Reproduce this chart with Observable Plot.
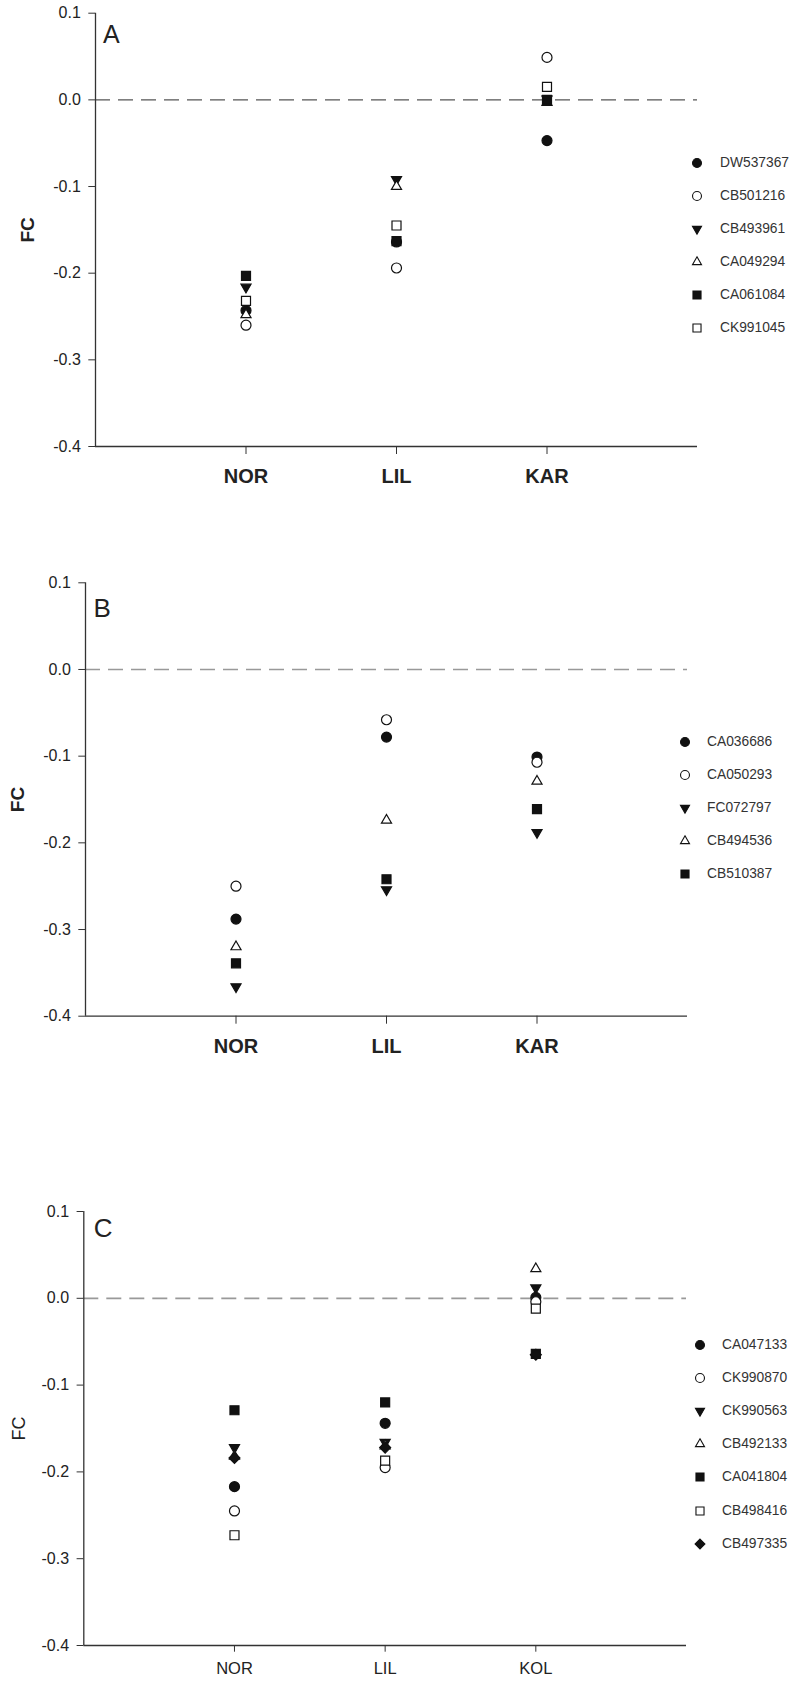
<!DOCTYPE html>
<html>
<head>
<meta charset="utf-8">
<script src="https://cdn.jsdelivr.net/npm/d3@7"></script>
<script src="https://cdn.jsdelivr.net/npm/@observablehq/plot@0.6"></script>
<style>
  body { margin: 0; background: #fff; }
  .panel { position: relative; width: 796px; }
  .panel svg { display: block; }
  .leg { position: absolute; font-family: 'Liberation Sans', Arial, sans-serif; font-size: 13.8px; color: #333; line-height: 16px; white-space: nowrap; }
  .legsym { position: absolute; }
</style>
</head>
<body>
<div id="chart"></div>
<script>
// ---------- DATA ----------
const yTicks = [0.1, 0.0, -0.1, -0.2, -0.3, -0.4];

// Panel A
const catsA = ["NOR", "LIL", "KAR"];
const seriesA = ["DW537367", "CB501216", "CB493961", "CA049294", "CA061084", "CK991045"];
const markersA = ["circle", "circle", "triangle-down", "triangle", "square", "square"];
const filledA = [true, false, true, false, true, false];
const valuesA = [
  [-0.243, -0.164, -0.047],
  [-0.260, -0.194, 0.049],
  [-0.216, -0.092, 0.001],
  [-0.248, -0.100, -0.003],
  [-0.203, -0.163, 0.000],
  [-0.232, -0.145, 0.015]
];

// Panel B
const catsB = ["NOR", "LIL", "KAR"];
const seriesB = ["CA036686", "CA050293", "FC072797", "CB494536", "CB510387"];
const markersB = ["circle", "circle", "triangle-down", "triangle", "square"];
const filledB = [true, false, true, false, true];
const valuesB = [
  [-0.288, -0.078, -0.101],
  [-0.250, -0.058, -0.107],
  [-0.366, -0.254, -0.188],
  [-0.320, -0.174, -0.129],
  [-0.339, -0.242, -0.161]
];

// Panel C
const catsC = ["NOR", "LIL", "KOL"];
const seriesC = ["CA047133", "CK990870", "CK990563", "CB492133", "CA041804", "CB498416", "CB497335"];
const markersC = ["circle", "circle", "triangle-down", "triangle", "square", "square", "diamond"];
const filledC = [true, false, true, false, true, false, true];
const valuesC = [
  [-0.217, -0.144, 0.001],
  [-0.245, -0.195, -0.004],
  [-0.172, -0.166, 0.012],
  [-0.182, -0.170, 0.034],
  [-0.129, -0.120, -0.064],
  [-0.273, -0.187, -0.012],
  [-0.184, -0.172, -0.065]
];

// ---------- STYLE / LAYOUT ----------
const FONT = "'Liberation Sans', Arial, Helvetica, sans-serif";
const INK = "#111";
const KIND = {
  "circle":        { symbol: "circle",   d3sym: d3.symbolCircle,   r: 5.0,  rotate: 0 },
  "square":        { symbol: "square",   d3sym: d3.symbolSquare,   r: 5.08, rotate: 0 },
  "triangle":      { symbol: "triangle", d3sym: d3.symbolTriangle, r: 3.75, rotate: 0 },
  "triangle-down": { symbol: "triangle", d3sym: d3.symbolTriangle, r: 3.75, rotate: 180 },
  "diamond":       { symbol: "diamond2", d3sym: d3.symbolDiamond2, r: 4.95, rotate: 0 }
};

const panels = [
  { cats: catsA, series: seriesA, markers: markersA, filled: filledA, values: valuesA,
    height: 492, mt: 12.7, mb: 46, ml: 95, mr: 99,
    catSize: 20, catWeight: "bold", catTick: 8, catPad: 14.5,
    fcSize: 19, fcWeight: "bold", fcDx: -67.3,
    letter: "A", letterSize: 25, letterDx: 7.6, letterDy: 12.3,
    zeroStroke: "#555", zeroWidth: 1.3,
    legX: 697, legTx: 720, legY: 162.7, legStep: 33 },
  { cats: catsB, series: seriesB, markers: markersB, filled: filledB, values: valuesB,
    height: 568, mt: 90.3, mb: 44.3, ml: 85, mr: 109,
    catSize: 20, catWeight: "bold", catTick: 8, catPad: 14.5,
    fcSize: 19, fcWeight: "bold", fcDx: -67.2,
    letter: "B", letterSize: 26, letterDx: 8, letterDy: 16,
    zeroStroke: "#999", zeroWidth: 1.7,
    legX: 685, legTx: 707, legY: 249.7, legStep: 33.1 },
  { cats: catsC, series: seriesC, markers: markersC, filled: filledC, values: valuesC,
    height: 622, mt: 151, mb: 37, ml: 83.3, mr: 110,
    catSize: 16.5, catWeight: "normal", catTick: 6.7, catPad: 10.3,
    fcSize: 18, fcWeight: "normal", fcDx: -64.3,
    letter: "C", letterSize: 26, letterDx: 10, letterDy: 7,
    zeroStroke: "#999", zeroWidth: 1.7,
    legX: 700, legTx: 722, legY: 285, legStep: 33.1 }
];

const root = document.getElementById("chart");

for (const p of panels) {
  const data = p.series.flatMap((s, si) =>
    p.cats.map((c, ci) => ({ series: s, cat: c, pos: ci + 1, fc: p.values[si][ci] })));

  const dots = p.series.map((s, si) => {
    const k = KIND[p.markers[si]];
    return Plot.dot(data.filter(d => d.series === s), {
      x: "pos", y: "fc", symbol: k.symbol, r: k.r, rotate: k.rotate,
      fill: p.filled[si] ? INK : "#fff", stroke: INK, strokeWidth: 1.2
    });
  });

  const svg = Plot.plot({
    width: 796, height: p.height,
    marginTop: p.mt, marginBottom: p.mb, marginLeft: p.ml, marginRight: p.mr,
    style: { fontFamily: FONT, background: "#fff", color: "#222", overflow: "visible" },
    x: { type: "linear", domain: [0, p.cats.length + 1] },
    y: { domain: [-0.4, 0.1] },
    marks: [
      Plot.ruleY([0], { stroke: p.zeroStroke, strokeWidth: p.zeroWidth, strokeDasharray: "15,8" }),
      Plot.ruleX([0], { stroke: "#333", strokeWidth: 1.3 }),
      Plot.ruleY([-0.4], { stroke: "#333", strokeWidth: 1.3 }),
      Plot.axisY({ ticks: yTicks, tickFormat: d => d.toFixed(1), tickSize: 6.7, tickPadding: 8,
                   fontSize: 16, label: null, stroke: "#333" }),
      Plot.axisX({ ticks: p.cats.map((c, i) => i + 1), tickFormat: i => p.cats[i - 1],
                   tickSize: p.catTick, tickPadding: p.catPad, fontSize: p.catSize,
                   fontWeight: p.catWeight, label: null, stroke: "#333" }),
      ...dots,
      Plot.text(["FC"], { text: d => d, frameAnchor: "left", dx: p.fcDx, rotate: -90,
                          fontSize: p.fcSize, fontWeight: p.fcWeight, textAnchor: "middle",
                          lineAnchor: "middle", fill: "#222" }),
      Plot.text([p.letter], { text: d => d, frameAnchor: "top-left", dx: p.letterDx, dy: p.letterDy,
                              fontSize: p.letterSize, textAnchor: "start", lineAnchor: "top", fill: "#222" })
    ]
  });

  const wrap = document.createElement("div");
  wrap.className = "panel";
  wrap.style.height = p.height + "px";
  wrap.appendChild(svg);

  // legend (HTML, to the right of the plot)
  p.series.forEach((s, si) => {
    const k = KIND[p.markers[si]];
    const cy = p.legY + si * p.legStep;
    const size = Math.PI * k.r * k.r * 0.8;
    const ns = "http://www.w3.org/2000/svg";
    const ssvg = document.createElementNS(ns, "svg");
    ssvg.setAttribute("width", 18); ssvg.setAttribute("height", 18);
    ssvg.setAttribute("class", "legsym");
    ssvg.style.left = (p.legX - 9) + "px";
    ssvg.style.top = (cy - 9) + "px";
    const path = document.createElementNS(ns, "path");
    path.setAttribute("d", d3.symbol(k.d3sym, size)());
    path.setAttribute("transform", `translate(9,9) rotate(${k.rotate})`);
    path.setAttribute("fill", p.filled[si] ? INK : "#fff");
    path.setAttribute("stroke", INK);
    path.setAttribute("stroke-width", 1.1);
    ssvg.appendChild(path);
    wrap.appendChild(ssvg);

    const lab = document.createElement("div");
    lab.className = "leg";
    lab.textContent = s;
    lab.style.left = p.legTx + "px";
    lab.style.top = (cy - 8) + "px";
    wrap.appendChild(lab);
  });

  root.appendChild(wrap);
}
</script>
</body>
</html>
